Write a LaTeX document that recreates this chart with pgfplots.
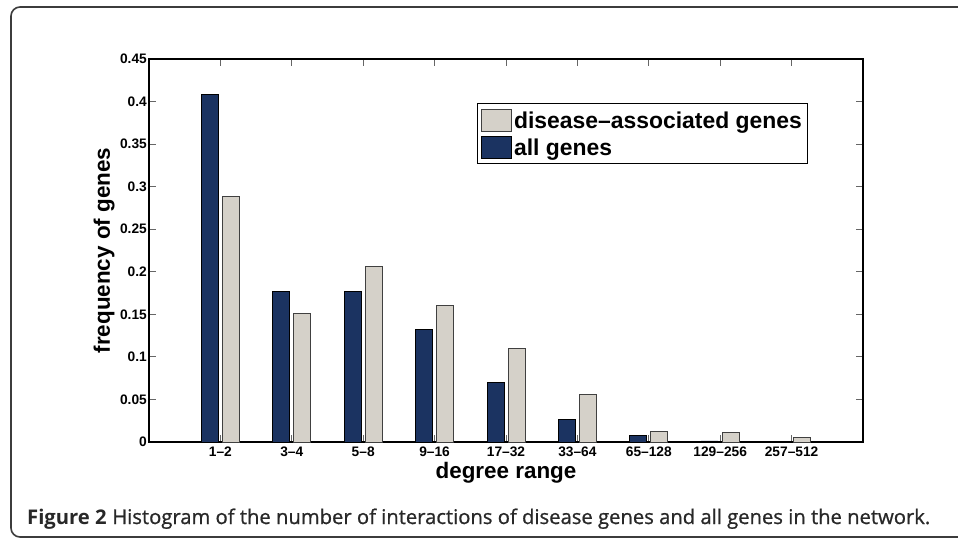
\documentclass[border=0pt]{standalone}
\usepackage{pgfplots}
\pgfplotsset{compat=1.18}
\usepackage{fontspec}
\setmainfont{Liberation Sans}
\newfontfamily\capfont[FakeBold=0.9]{Open Sans}
\newfontfamily\capbold{Open Sans Bold}
\definecolor{allg}{RGB}{27,51,97}
\definecolor{disg}{RGB}{213,209,201}
\definecolor{framec}{RGB}{60,60,60}
\definecolor{capc}{RGB}{40,40,40}
\begin{document}
\begin{tikzpicture}
\useasboundingbox (0,0) rectangle (958bp,-538bp);
\begin{scope}
\clip (0,0) rectangle (958bp,-538bp);
\draw[framec, line width=1.6bp, rounded corners=9bp] (990bp,-7bp) -- (11bp,-7bp) -- (11bp,-537bp) -- (990bp,-537bp);
\end{scope}
\begin{axis}[
  at={(149bp,-59bp)}, anchor=north west,
  scale only axis, width=714bp, height=383bp,
  xmin=0, xmax=10, ymin=0, ymax=0.45,
  ybar, bar width=17bp,
  xtick={1,2,3,4,5,6,7,8,9},
  xticklabels={1--2,3--4,5--8,9--16,17--32,33--64,65--128,129--256,257--512},
  ytick={0,0.05,0.1,0.15,0.2,0.25,0.3,0.35,0.4,0.45},
  yticklabels={0,0.05,0.1,0.15,0.2,0.25,0.3,0.35,0.4,0.45},
  tick align=inside, major tick length=7bp,
  major tick style={line width=0.8bp, color=black!60},
  axis line style={line width=1.2bp},
  ticklabel style={font=\fontsize{13.8}{14}\selectfont\bfseries},
  xticklabel style={inner sep=2bp, yshift=-3bp},
  yticklabel style={inner sep=2bp},
  xlabel={degree range},
  ylabel={frequency of genes},
  label style={font=\fontsize{22.5}{23}\selectfont\bfseries},
  xlabel style={at={(axis description cs:0.5,-0.08)}, anchor=center, inner sep=0pt},
  ylabel style={at={(axis description cs:-0.063,0.5)}, anchor=center, inner sep=0pt},
  legend cell align=left,
  legend style={at={(0.459,0.885)}, anchor=north west, draw=black, line width=1bp,
    font=\fontsize{23}{23}\selectfont\bfseries, inner xsep=4bp, inner ysep=2bp,
    row sep=-2bp, column sep=0pt,
    nodes={inner xsep=2bp, inner ysep=1bp, text height=22bp, text depth=5bp}},
]
\addplot[fill=disg, draw=black!75, line width=0.8bp, bar shift=10.5bp,
  legend image code/.code={\draw[fill=disg, draw=black!75, line width=0.8bp] (0bp,-11bp) rectangle (30bp,11bp);}]
  coordinates {(1,0.288) (2,0.151) (3,0.206) (4,0.160) (5,0.110) (6,0.056) (7,0.012) (8,0.0114) (9,0.0055)};
\addlegendentry{disease--associated genes}
\addplot[fill=allg, draw=black, line width=0.8bp, bar shift=-10.5bp,
  legend image code/.code={\draw[fill=allg, draw=black, line width=0.8bp] (0bp,-11bp) rectangle (30bp,11bp);}]
  coordinates {(1,0.408) (2,0.177) (3,0.177) (4,0.132) (5,0.070) (6,0.026) (7,0.008) (8,0.0012) (9,0.0003)};
\addlegendentry{all genes}
\end{axis}
\node[anchor=base west, inner sep=0pt] at (27bp,-524bp)
  {\resizebox{903bp}{!}{\color{capc}{\capbold Figure 2} {\capfont Histogram of the number of interactions of disease genes and all genes in the network.}}};
\end{tikzpicture}
\end{document}
